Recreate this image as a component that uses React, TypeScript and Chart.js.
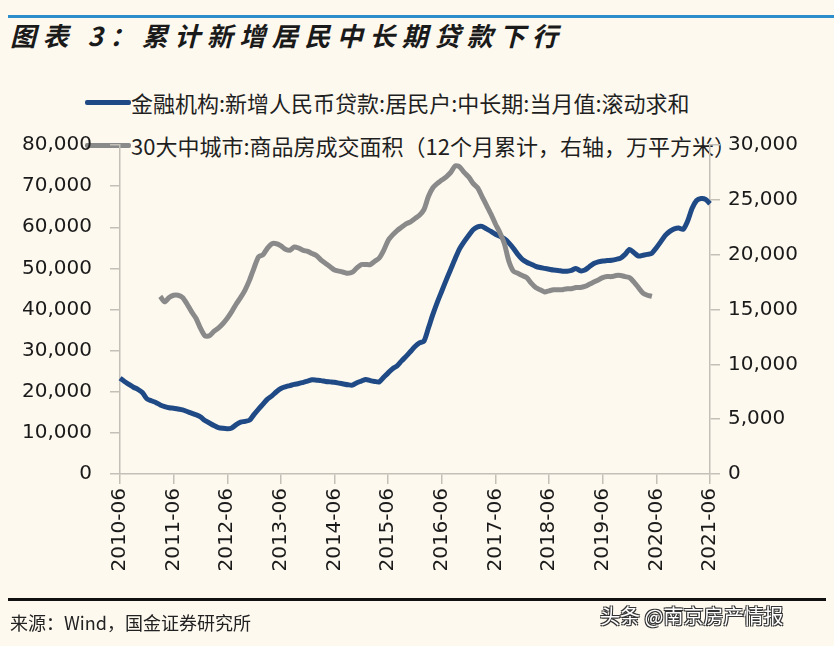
import React, { useEffect, useRef } from "react";
import { Chart, registerables } from "chart.js";

Chart.register(...registerables);

const START_YEAR = 2010;
const START_MONTH = 6;
const MONTH_COUNT = 133;
const months: string[] = [];
for (let i = 0; i < MONTH_COUNT; i++) {
  const t = START_MONTH - 1 + i;
  const y = START_YEAR + Math.floor(t / 12);
  const m = (t % 12) + 1;
  months.push(`${y}-${m < 10 ? "0" + m : m}`);
}

const loanSeriesName = "金融机构:新增人民币贷款:居民户:中长期:当月值:滚动求和";
const areaSeriesName = "30大中城市:商品房成交面积（12个月累计，右轴，万平方米）";

const loanValues = [
  23300, 22500, 21800, 21100, 20600, 19800, 18300, 17800, 17400, 16800,
  16400, 16100, 16000, 15800, 15600, 15200, 14800, 14400, 13900, 13000,
  12400, 11800, 11300, 11100, 11000, 11200, 12000, 12600, 12800, 13100,
  14500, 15800, 17000, 18200, 19000, 20000, 20800, 21200, 21500, 21800,
  22000, 22300, 22600, 22900, 22800, 22700, 22500, 22400, 22300, 22100,
  21900, 21700, 21600, 22200, 22600, 23000, 22700, 22500, 22400, 23500,
  24600, 25600, 26300, 27500, 28600, 29800, 31000, 31900, 32300, 35500,
  38800, 41800, 44500, 47200, 49800, 52400, 54800, 56500, 58000, 59400,
  60100, 60200, 59600, 59000, 58300, 57800, 57200, 56200, 54900, 53400,
  52200, 51500, 51000, 50500, 50200, 50000, 49800, 49600, 49500, 49300,
  49300, 49500, 50000, 49400, 49600, 50400, 51200, 51600, 51800, 51900,
  52000, 52200, 52500, 53400, 54600, 53800, 53000, 53200, 53400, 53700,
  55000, 56500, 58000, 59000, 59600, 59800, 59500, 61500, 64600, 66500,
  67000, 66800, 65700,
];

const AREA_START_INDEX = 9; // 2011-03
const areaValues = [
  16200, 15700, 16100, 16300, 16300, 16100, 15500, 14800, 14200, 13300,
  12600, 12600, 13000, 13300, 13700, 14200, 14800, 15500, 16100, 16800,
  17700, 18800, 19800, 20000, 20600, 21000, 21000, 20800, 20500, 20400,
  20700, 20600, 20400, 20300, 20100, 19900, 19500, 19200, 18900, 18600,
  18500, 18400, 18300, 18400, 18800, 19100, 19100, 19100, 19400, 19700,
  20400, 21300, 21800, 22200, 22500, 22800, 23000, 23300, 23600, 24100,
  25300, 26100, 26500, 26800, 27100, 27500, 28100, 28000, 27500, 27100,
  26500, 26100, 25300, 24500, 23700, 22800, 22000, 21000, 19400, 18500,
  18300, 18100, 17900, 17400, 17000, 16800, 16600, 16700, 16800, 16800,
  16800, 16900, 16900, 17000, 17000, 17100, 17300, 17500, 17700, 17900,
  18000, 18000, 18100, 18100, 18000, 17900, 17500, 17000, 16500, 16300,
  16200,
];

const leftTicks = { min: 0, max: 80000, step: 10000 };
const rightTicks = { min: 0, max: 30000, step: 5000 };

const BG = "#fdf9ef";
const BLUE = "#1f4a85";
const GRAY = "#8a8a8a";
const AXIS = "#c4c0b8";
const TICK_FONT = "'DejaVu Sans', Verdana, sans-serif";

function fmt(v: number) {
  return v.toLocaleString("en-US");
}

export default function App() {
  const ref = useRef<HTMLCanvasElement | null>(null);

  useEffect(() => {
    if (!ref.current) return;
    const areaFull: (number | null)[] = months.map((_, i) => {
      const k = i - AREA_START_INDEX;
      return k >= 0 && k < areaValues.length ? areaValues[k] : null;
    });
    const chart = new Chart(ref.current, {
      type: "line",
      data: {
        labels: months,
        datasets: [
          {
            label: areaSeriesName,
            data: areaFull,
            borderColor: GRAY,
            backgroundColor: GRAY,
            borderWidth: 5,
            pointRadius: 0,
            tension: 0.25,
            yAxisID: "y2",
            spanGaps: false,
          },
          {
            label: loanSeriesName,
            data: loanValues,
            borderColor: BLUE,
            backgroundColor: BLUE,
            borderWidth: 5,
            pointRadius: 0,
            tension: 0.25,
            yAxisID: "y",
          },
        ],
      },
      options: {
        responsive: false,
        animation: false,
        layout: { padding: { top: 145, left: 0, right: 0, bottom: 0 } },
        plugins: { legend: { display: false }, tooltip: { enabled: false } },
        scales: {
          x: {
            type: "category",
            offset: false,
            afterBuildTicks: (scale: any) => {
              scale.ticks = scale.ticks.filter((t: any) => t.value % 12 === 0);
            },
            afterFit: (scale: any) => {
              scale.height = 172;
            },
            grid: {
              drawOnChartArea: false,
              drawTicks: true,
              tickLength: 10,
              color: AXIS,
              lineWidth: 1.5,
            },
            border: { display: true, color: AXIS, width: 1.5 },
            ticks: {
              autoSkip: false,
              maxRotation: 90,
              minRotation: 90,
              padding: 4,
              color: "#1a1a1a",
              font: { family: TICK_FONT, size: 20 },
              callback: function (this: any, value: any) {
                return months[value as number];
              },
            },
          },
          y: {
            position: "left",
            min: leftTicks.min,
            max: leftTicks.max,
            afterFit: (scale: any) => {
              scale.width = 120;
            },
            grid: {
              drawOnChartArea: false,
              tickLength: 10,
              color: AXIS,
              lineWidth: 1.5,
            },
            border: { display: true, color: AXIS, width: 1.5 },
            ticks: {
              stepSize: leftTicks.step,
              padding: 18,
              color: "#1a1a1a",
              font: { family: TICK_FONT, size: 20 },
              callback: (v: any) => fmt(Number(v)),
            },
          },
          y2: {
            position: "right",
            min: rightTicks.min,
            max: rightTicks.max,
            afterFit: (scale: any) => {
              scale.width = 124;
            },
            grid: {
              drawOnChartArea: false,
              tickLength: 10,
              color: AXIS,
              lineWidth: 1.5,
            },
            border: { display: true, color: AXIS, width: 1.5 },
            ticks: {
              stepSize: rightTicks.step,
              padding: 8,
              color: "#1a1a1a",
              font: { family: TICK_FONT, size: 20 },
              callback: (v: any) => fmt(Number(v)),
            },
          },
        },
      },
    });
    return () => chart.destroy();
  }, []);

  const cjk = "'Noto Sans CJK SC', 'Noto Sans', sans-serif";

  return (
    <div
      style={{
        position: "fixed",
        left: 0,
        top: 0,
        width: 834,
        height: 646,
        background: BG,
        overflow: "hidden",
        fontFamily: cjk,
      }}
    >
      <div
        style={{
          position: "absolute",
          left: 8,
          top: 15,
          width: 826,
          height: 3,
          background: "#2c8fcb",
        }}
      />
      <div
        style={{
          position: "absolute",
          left: 10,
          top: 18,
          fontSize: 26,
          fontWeight: 700,
          fontStyle: "italic",
          letterSpacing: 6.5,
          color: "#1a1a1a",
          whiteSpace: "nowrap",
          lineHeight: "34px",
        }}
      >
        图表 3：累计新增居民中长期贷款下行
      </div>

      {/* legend (behind the canvas) */}
      <div style={{ position: "absolute", left: 85, top: 87, display: "flex", alignItems: "center", whiteSpace: "nowrap" }}>
        <div style={{ width: 46, height: 5, background: BLUE, borderRadius: 2 }} />
        <div style={{ fontSize: 22, color: "#1f1f1f", lineHeight: "30px" }}>{loanSeriesName}</div>
      </div>
      <div style={{ position: "absolute", left: 85, top: 130, display: "flex", alignItems: "center", whiteSpace: "nowrap" }}>
        <div style={{ width: 46, height: 5, background: GRAY, borderRadius: 2 }} />
        <div style={{ fontSize: 22, color: "#1f1f1f", lineHeight: "30px" }}>{areaSeriesName}</div>
      </div>

      <canvas
        ref={ref}
        width={834}
        height={646}
        style={{ position: "absolute", left: 0, top: 0, width: 834, height: 646 }}
      />

      <div
        style={{
          position: "absolute",
          left: 8,
          top: 598,
          width: 818,
          height: 3,
          background: "#111",
        }}
      />
      <div
        style={{
          position: "absolute",
          left: 10,
          top: 608,
          fontSize: 18,
          color: "#222",
          whiteSpace: "nowrap",
          lineHeight: "28px",
        }}
      >
        来源：Wind，国金证券研究所
      </div>
      <div
        style={{
          position: "absolute",
          left: 600,
          top: 602,
          fontSize: 20,
          color: "#ffffff",
          whiteSpace: "nowrap",
          lineHeight: "28px",
          textShadow:
            "1px 1px 0 #333, -1px -1px 0 #333, 1px -1px 0 #333, -1px 1px 0 #333",
        }}
      >
        头条 @南京房产情报
      </div>
    </div>
  );
}
